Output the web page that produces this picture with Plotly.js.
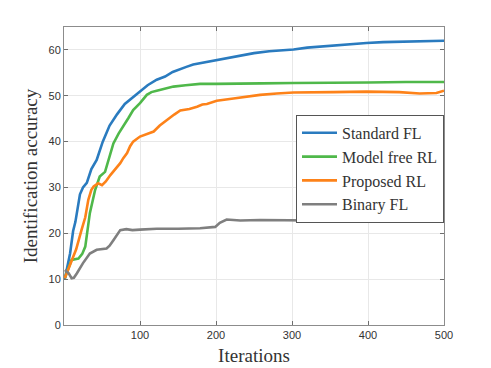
<!DOCTYPE html>
<html>
<head>
<meta charset="utf-8">
<script src="https://cdn.plot.ly/plotly-3.0.1.min.js"></script>
<style>body{margin:0;background:#fff}#plot{width:491px;height:368px}</style>
</head>
<body>
<div id="plot"></div>
<script>
// values
const seriesNames = ['Standard FL', 'Model free RL', 'Proposed RL', 'Binary FL'];

const itStd  = [1, 5, 8, 12, 15, 21, 25, 30, 36, 43, 51, 60, 70, 80, 90, 100, 110, 122, 133, 143, 152, 161, 170, 179, 190, 201, 212, 223, 235, 250, 270, 290, 302, 320, 354, 380, 398, 420, 441, 470, 500];
const accStd = [10, 13, 15.6, 20.5, 22.5, 28.5, 30, 31, 34, 36, 40, 43.5, 46, 48.2, 49.5, 51, 52.3, 53.5, 54.2, 55.2, 55.8, 56.3, 56.8, 57.1, 57.3, 57.7, 58.1, 58.4, 58.8, 59.3, 59.7, 59.9, 60.1, 60.5, 61, 61.3, 61.5, 61.7, 61.8, 61.9, 62];

const itMf  = [1, 5, 10, 19, 24, 28, 34, 41, 47, 54, 60, 65, 72, 78, 85, 91, 100, 109, 115, 122, 133, 144, 160, 179, 200, 223, 260, 302, 350, 400, 450, 500];
const accMf = [10.2, 12, 14.2, 14.5, 15.5, 17.1, 24.4, 29.5, 32.4, 33.4, 36.5, 39.6, 41.8, 43.3, 45.2, 46.9, 48.4, 50.2, 50.8, 51.1, 51.6, 52, 52.3, 52.6, 52.6, 52.6, 52.7, 52.8, 52.8, 52.9, 53, 53];

const itProp  = [1, 5, 10, 16, 23, 28, 32, 36, 39, 45, 50, 55, 61, 68, 74, 78, 83, 87, 91, 100, 108, 118, 126, 135, 145, 153, 165, 175, 182, 188, 201, 223, 240, 258, 280, 302, 354, 398, 441, 468, 490, 500];
const accProp = [10.2, 12, 14.2, 16.5, 20.7, 23.5, 27.3, 29.5, 30.2, 30.9, 30.5, 31.3, 32.7, 34, 35.3, 36.4, 37.5, 39, 40, 41.1, 41.6, 42.2, 43.5, 44.7, 45.9, 46.8, 47.1, 47.6, 48.1, 48.2, 48.9, 49.4, 49.8, 50.2, 50.5, 50.7, 50.8, 50.9, 50.8, 50.5, 50.6, 51.1];

const itBin  = [1, 6, 10, 13, 17, 25, 34, 43, 56, 60, 65, 70, 74, 82, 90, 100, 122, 150, 179, 199, 205, 214, 220, 232, 258, 302, 350, 398, 450, 500];
const accBin = [12, 11.3, 10.2, 10.3, 11.3, 13.5, 15.6, 16.4, 16.7, 17.3, 18.5, 19.9, 20.7, 20.9, 20.7, 20.8, 21, 21, 21.1, 21.4, 22.3, 23, 22.9, 22.8, 22.9, 22.8, 22.7, 22.7, 22.6, 22.6];

const colors = ['#2a7bbf', '#4fb84a', '#fd8219', '#7f7f7f'];
const xs = [itStd, itMf, itProp, itBin];
const ys = [accStd, accMf, accProp, accBin];

const serif = "'Liberation Serif', 'Times New Roman', Times, serif";

const data = seriesNames.map((name, i) => ({
  x: xs[i],
  y: ys[i],
  name: name,
  mode: 'lines',
  line: {color: colors[i], width: 2.6}
}));

const axisCommon = {
  showline: true,
  linecolor: '#8c8c8c',
  linewidth: 1,
  mirror: 'ticks',
  ticks: 'inside',
  ticklen: 4,
  tickcolor: '#6e6e6e',
  showgrid: true,
  gridcolor: '#e8e8e8',
  zeroline: false,
  tickfont: {family: "'Liberation Sans', Arial, sans-serif", size: 11, color: '#333'}
};

const layout = {
  width: 491,
  height: 368,
  margin: {l: 64, r: 47, t: 27, b: 43},
  paper_bgcolor: '#fff',
  plot_bgcolor: '#fff',
  showlegend: true,
  font: {family: serif},
  xaxis: Object.assign({}, axisCommon, {
    range: [0, 500],
    tickvals: [100, 200, 300, 400, 500],
    title: {text: 'Iterations', standoff: 8,
      font: {family: serif, size: 19, color: '#333'}}
  }),
  yaxis: Object.assign({}, axisCommon, {
    range: [0, 65],
    tickvals: [0, 10, 20, 30, 40, 50, 60],
    title: {text: 'Identification accuracy', standoff: 5,
      font: {family: serif, size: 19, color: '#333'}}
  }),
  legend: {
    x: 1, xanchor: 'right',
    y: 0.705, yanchor: 'top',
    bgcolor: '#fff',
    bordercolor: '#555',
    borderwidth: 1,
    itemwidth: 35,
    font: {family: serif, size: 16, color: '#333'}
  }
};

Plotly.newPlot('plot', data, layout, {displayModeBar: false});
</script>
</body>
</html>
